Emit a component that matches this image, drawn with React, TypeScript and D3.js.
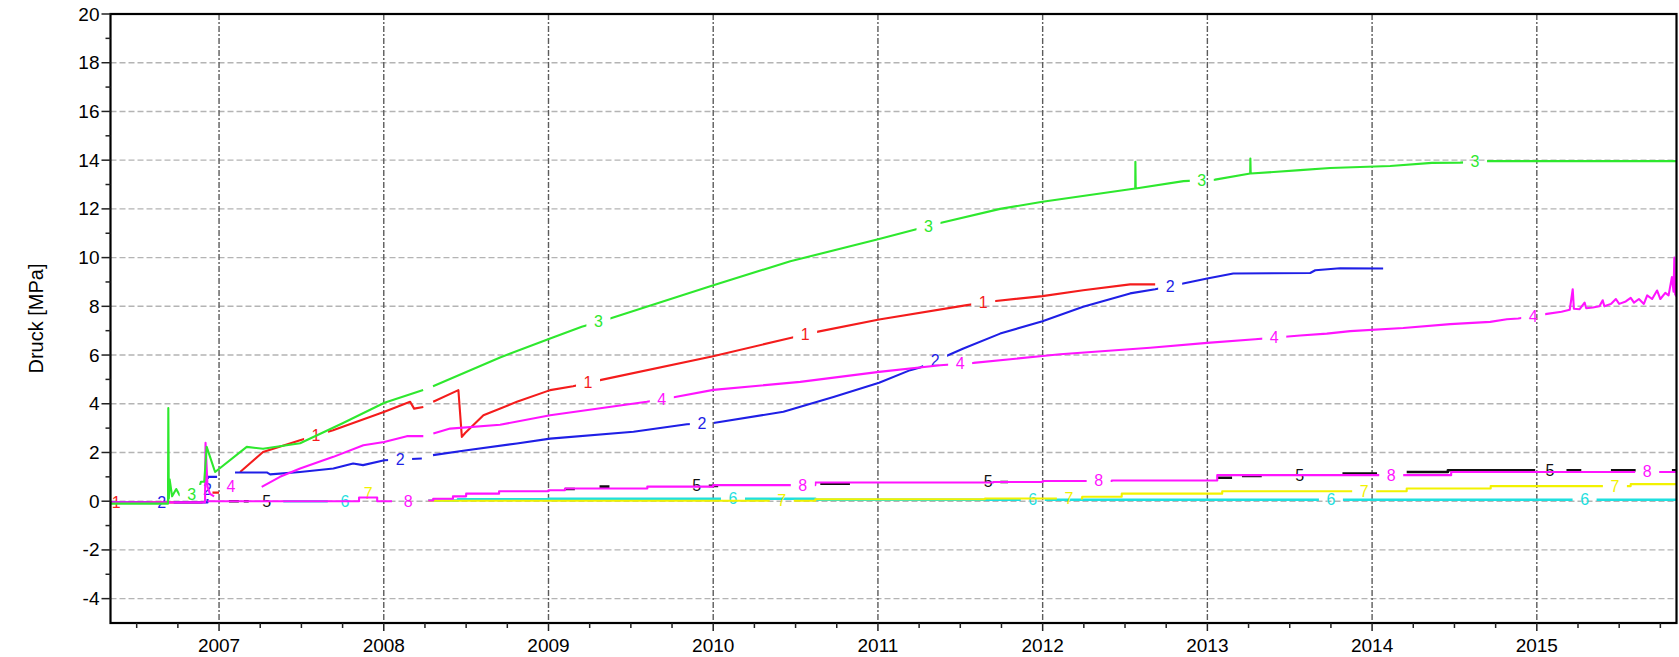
import React from 'react';
import * as d3 from 'd3';

// Pressure history of eight measuring points, 2006–2015
type Pt = [number, number];
type Lbl = [number, number?];
const G: Pt = [NaN, NaN]; // break in the record

const yearTicks = [2007, 2008, 2009, 2010, 2011, 2012, 2013, 2014, 2015];
const pressureTicks = [-4, -2, 0, 2, 4, 6, 8, 10, 12, 14, 16, 18, 20];
const yLabel = 'Druck [MPa]';

const series1: Pt[] = [
  [2006.341, -0.05], [2006.9, -0.05], G, [2006.96, 0.35], [2007.0, 0.35], G,
  [2007.128, 1.2], [2007.267, 2.02], [2007.492, 2.5], [2007.692, 2.91], [2008.004, 3.67],
  [2008.16, 4.08], [2008.184, 3.8], [2008.24, 3.87], G, [2008.3, 4.08], [2008.453, 4.56],
  [2008.474, 2.64], [2008.494, 2.8], [2008.605, 3.53], [2008.808, 4.08], [2009.01, 4.56],
  [2009.149, 4.72], [2009.313, 4.97], [2009.999, 5.95], [2010.468, 6.7], [2010.629, 6.95],
  [2011.007, 7.46], [2011.54, 8.05], [2011.701, 8.21], [2011.999, 8.42], [2012.246, 8.66],
  [2012.531, 8.9], [2012.683, 8.9],
];
const labels1: Lbl[] = [[2006.375], [2007.589], [2009.24], [2010.558], [2011.639]];

const series2: Pt[] = [
  [2006.341, -0.05], [2006.93, -0.05], [2006.932, 1.0], [2006.988, 1.0], G,
  [2007.097, 1.18], [2007.29, 1.18], [2007.31, 1.1], [2007.492, 1.2], [2007.694, 1.34],
  [2007.814, 1.55], [2007.874, 1.48], [2008.004, 1.68], [2008.231, 1.75], G,
  [2008.299, 1.89], [2008.504, 2.09], [2008.808, 2.37], [2009.01, 2.57], [2009.516, 2.85],
  [2009.84, 3.16], [2010.001, 3.21], [2010.426, 3.67], [2010.73, 4.28], [2011.007, 4.86],
  [2011.196, 5.38], [2011.256, 5.49], [2011.519, 6.27], [2011.742, 6.88], [2011.999, 7.39],
  [2012.246, 7.98], [2012.531, 8.53], [2012.683, 8.7], [2012.853, 8.94], [2012.999, 9.14],
  [2013.157, 9.35], [2013.624, 9.37], [2013.655, 9.48], [2013.806, 9.56], [2014.067, 9.55],
];
const labels2: Lbl[] = [[2006.652], [2006.93, 0.5], [2008.099], [2009.931], [2011.347], [2012.774]];

const series3: Pt[] = [
  [2006.341, -0.1], [2006.69, -0.1], [2006.692, 3.82], [2006.695, 0.1], [2006.7, 0.9],
  [2006.715, 0.2], [2006.74, 0.5], [2006.76, 0.25], [2006.8, 0.22], [2006.87, 0.3],
  [2006.89, 0.8], [2006.91, 0.8], [2006.925, 2.23], [2006.976, 1.2], [2007.168, 2.23],
  [2007.267, 2.15], [2007.492, 2.38], [2007.75, 3.2], [2008.004, 4.04], [2008.239, 4.56], G,
  [2008.299, 4.72], [2008.706, 5.9], [2009.01, 6.68], [2009.202, 7.16], [2009.374, 7.5],
  [2010.001, 8.87], [2010.468, 9.85], [2011.007, 10.76], [2011.378, 11.42], [2011.742, 12.0],
  [2011.999, 12.29], [2012.562, 12.84], [2012.563, 13.93], [2012.565, 12.84], [2012.855, 13.14],
  [2013.047, 13.2], [2013.26, 13.45], [2013.261, 14.07], [2013.263, 13.45], [2013.563, 13.59],
  [2013.745, 13.68], [2014.11, 13.76], [2014.363, 13.89], [2014.535, 13.9], [2014.699, 13.96],
  [2015.848, 13.96],
];
const labels3: Lbl[] = [[2006.834], [2009.303], [2011.307], [2012.966], [2014.625]];

const series4: Pt[] = [
  [2006.341, -0.05], [2006.915, -0.05], [2006.918, 2.4], [2006.93, 0.6], [2006.945, 0.3],
  [2006.97, 0.2], G,
  [2007.259, 0.59], [2007.37, 1.0], [2007.492, 1.34], [2007.694, 1.82], [2007.876, 2.3],
  [2008.002, 2.43], [2008.14, 2.67], [2008.24, 2.67], G, [2008.301, 2.78], [2008.403, 2.98],
  [2008.706, 3.14], [2009.01, 3.53], [2009.597, 4.08], [2009.769, 4.28], [2010.001, 4.57],
  [2010.528, 4.9], [2011.007, 5.31], [2011.378, 5.58], [2011.58, 5.68], [2011.999, 5.96],
  [2012.106, 6.03], [2012.653, 6.3], [2012.999, 6.5], [2013.29, 6.65], [2013.563, 6.8],
  [2013.725, 6.88], [2013.867, 6.98], [2014.189, 7.11], [2014.474, 7.27], [2014.717, 7.36],
  [2014.818, 7.47], [2014.887, 7.5], [2015.051, 7.68], [2015.15, 7.78], [2015.2, 7.86],
  [2015.218, 8.7], [2015.225, 7.9], [2015.26, 7.88], [2015.29, 8.15], [2015.3, 7.92],
  [2015.34, 7.95], [2015.38, 8.0], [2015.4, 8.25], [2015.41, 8.0], [2015.45, 8.1],
  [2015.48, 8.3], [2015.5, 8.1], [2015.54, 8.2], [2015.57, 8.35], [2015.59, 8.15],
  [2015.62, 8.3], [2015.65, 8.1], [2015.67, 8.45], [2015.7, 8.3], [2015.73, 8.65],
  [2015.75, 8.3], [2015.78, 8.55], [2015.8, 8.45], [2015.82, 9.2], [2015.83, 8.6],
  [2015.835, 10.0], [2015.84, 8.5], [2015.848, 8.4],
];
const labels4: Lbl[] = [[2007.073, 0.6], [2009.688], [2011.499], [2013.406], [2014.978]];

const series5: Pt[] = [
  [2007.06, 0.0], [2007.12, 0.0], G, [2007.15, 0.0], [2007.18, 0.0], G,
  [2009.1, 0.5], [2009.16, 0.5], G, [2009.31, 0.6], [2009.37, 0.6], G,
  [2009.96, 0.63], [2010.03, 0.63], G, [2010.65, 0.72], [2010.83, 0.72], G,
  [2011.74, 0.79], [2011.79, 0.79], G,
  [2013.06, 0.96], [2013.15, 0.96], G, [2013.21, 1.04], [2013.33, 1.04], G,
  [2013.82, 1.13], [2014.03, 1.13], G, [2014.21, 1.2], [2014.45, 1.2], [2014.46, 1.27],
  [2014.99, 1.27], G, [2015.18, 1.27], [2015.27, 1.27], G, [2015.45, 1.27], [2015.6, 1.27], G,
  [2015.82, 1.27], [2015.848, 1.27],
];
const labels5: Lbl[] = [[2007.29, 0.0], [2009.9, 0.63], [2011.67, 0.8], [2013.56, 1.07], [2015.08, 1.27]];

const series6: Pt[] = [
  [2007.39, 0.0], [2007.66, 0.0], G, [2008.27, 0.03], [2008.45, 0.08], [2009.0, 0.1],
  [2010.62, 0.06], [2015.848, 0.06],
];
const labels6: Lbl[] = [[2007.765, 0.0], [2010.12], [2011.94], [2013.75], [2015.29]];

const series7: Pt[] = [
  [2008.27, 0.02], [2010.62, 0.08], [2011.65, 0.11], [2012.24, 0.18], [2012.48, 0.31],
  [2013.09, 0.41], [2014.21, 0.52], [2014.72, 0.62], [2015.57, 0.7], [2015.848, 0.7],
];
const labels7: Lbl[] = [[2007.906, 0.3], [2010.416], [2012.159], [2013.952], [2015.474]];

const series8: Pt[] = [
  [2006.93, 0.0], [2007.83, 0.0], [2007.85, 0.15], [2007.95, 0.15], [2007.96, 0.0],
  [2008.05, 0.0], G, [2008.27, 0.03], [2008.3, 0.1], [2008.42, 0.2], [2008.5, 0.31],
  [2008.7, 0.41], [2009.0, 0.45], [2009.1, 0.52], [2009.6, 0.6], [2010.0, 0.66],
  [2010.62, 0.77], [2011.7, 0.79], [2012.0, 0.83], [2012.42, 0.85], [2013.06, 1.07],
  [2014.48, 1.2], [2015.848, 1.2],
];
const labels8: Lbl[] = [[2008.149, 0.0], [2010.544], [2012.34], [2014.116], [2015.67]];

interface Series { name: string; data: Pt[]; labels: Lbl[]; color: string; step: boolean; width: number }
const allSeries: Series[] = [
  { name: '1', data: series1, labels: labels1, color: '#f41c1c', step: false, width: 2.1 },
  { name: '2', data: series2, labels: labels2, color: '#1f1fe6', step: false, width: 2.1 },
  { name: '4', data: series4, labels: labels4, color: '#ff14ff', step: false, width: 2.1 },
  { name: '3', data: series3, labels: labels3, color: '#2ee82e', step: false, width: 2.1 },
  { name: '6', data: series6, labels: labels6, color: '#1ee0e0', step: true, width: 2.5 },
  { name: '7', data: series7, labels: labels7, color: '#f2f200', step: true, width: 2.1 },
  { name: '5', data: series5, labels: labels5, color: '#111111', step: true, width: 2.6 },
  { name: '8', data: series8, labels: labels8, color: '#ff14ff', step: true, width: 2.1 },
];

const W = 1679;
const H = 657;
const plot = { left: 110.5, right: 1676.5, top: 14, bottom: 623 };
const FONT = '"Liberation Sans", Arial, sans-serif';

function valueAt(data: Pt[], t: number, step: boolean): number {
  for (let i = 0; i < data.length - 1; i++) {
    const [x0, y0] = data[i];
    const [x1, y1] = data[i + 1];
    if (!isFinite(x0) || !isFinite(x1)) continue;
    if (t >= x0 && t <= x1) return step ? y0 : y0 + ((y1 - y0) * (t - x0)) / (x1 - x0);
  }
  return 0;
}

export default function App() {
  const x = d3.scaleLinear().domain([2006.341, 2015.848]).range([plot.left, plot.right]);
  const y = d3.scaleLinear().domain([-5, 20]).range([plot.bottom, plot.top]);

  const minorX: number[] = [];
  for (let q = 2006.5; q < 2015.85; q += 0.25) {
    if (Math.abs(q - Math.round(q)) > 0.01) minorX.push(q);
  }
  const minorY = d3.range(-5, 20, 2).filter((v) => v > -5);

  return (
    <svg width={W} height={H} style={{ position: 'absolute', left: 0, top: 0, background: '#fff' }}>
      <defs>
        <clipPath id="plotClip">
          <rect x={plot.left} y={plot.top} width={plot.right - plot.left} height={plot.bottom - plot.top} />
        </clipPath>
        {allSeries.map((s, i) => (
          <mask id={`gap${i}`} key={i} maskUnits="userSpaceOnUse" x={0} y={0} width={W} height={H}>
            <rect x={0} y={0} width={W} height={H} fill="#fff" />
            {s.labels.map((l, j) => {
              const v = l[1] !== undefined ? (l[1] as number) : valueAt(s.data, l[0], s.step);
              return <rect key={j} x={x(l[0]) - 12} y={y(v) - 10} width={24} height={20} fill="#000" />;
            })}
          </mask>
        ))}
      </defs>

      {/* grid */}
      <g>
        {pressureTicks.filter((v) => v < 20).map((v) => (
          <line key={v} x1={plot.left} x2={plot.right} y1={y(v)} y2={y(v)}
            stroke="#b4b4b4" strokeWidth={1.4} strokeDasharray="6,3" />
        ))}
        {yearTicks.map((t) => (
          <line key={t} x1={x(t)} x2={x(t)} y1={plot.top} y2={plot.bottom}
            stroke="#5c5c5c" strokeWidth={1.4} strokeDasharray="6,2,2,2" />
        ))}
      </g>

      {/* series */}
      <g clipPath="url(#plotClip)">
        {allSeries.map((s, i) => {
          const line = d3.line<Pt>()
            .defined((d) => isFinite(d[0]) && isFinite(d[1]))
            .x((d) => x(d[0]))
            .y((d) => y(d[1]))
            .curve(s.step ? d3.curveStepAfter : d3.curveLinear);
          return (
            <g key={i}>
              <path d={line(s.data) || ''} fill="none" stroke={s.color} strokeWidth={s.width}
                strokeLinejoin="round" mask={`url(#gap${i})`} />
              {s.labels.map((l, j) => {
                const v = l[1] !== undefined ? (l[1] as number) : valueAt(s.data, l[0], s.step);
                return (
                  <text key={j} x={x(l[0])} y={y(v)} fill={s.color} fontFamily={FONT} fontSize={16}
                    textAnchor="middle" dominantBaseline="central">{s.name}</text>
                );
              })}
            </g>
          );
        })}
      </g>

      {/* frame */}
      <rect x={plot.left} y={plot.top} width={plot.right - plot.left} height={plot.bottom - plot.top}
        fill="none" stroke="#000" strokeWidth={2.2} />

      {/* y axis */}
      <g fontFamily={FONT} fontSize={19} fill="#000">
        {pressureTicks.map((v) => (
          <g key={v}>
            <line x1={plot.left - 9} x2={plot.left} y1={y(v)} y2={y(v)} stroke="#222" strokeWidth={1.5} />
            <text x={plot.left - 11} y={y(v)} textAnchor="end" dominantBaseline="central">{v}</text>
          </g>
        ))}
        {minorY.map((v) => (
          <line key={v} x1={plot.left - 5} x2={plot.left} y1={y(v)} y2={y(v)} stroke="#222" strokeWidth={1.5} />
        ))}
        <text transform={`translate(36,${(plot.top + plot.bottom) / 2}) rotate(-90)`} textAnchor="middle"
          dominantBaseline="central" fontSize={20}>{yLabel}</text>
      </g>

      {/* x axis */}
      <g fontFamily={FONT} fontSize={19} fill="#000">
        {yearTicks.map((t) => (
          <g key={t}>
            <line x1={x(t)} x2={x(t)} y1={plot.bottom} y2={plot.bottom + 8} stroke="#222" strokeWidth={1.5} />
            <text x={x(t)} y={652} textAnchor="middle">{t}</text>
          </g>
        ))}
        {minorX.map((t) => (
          <line key={t} x1={x(t)} x2={x(t)} y1={plot.bottom} y2={plot.bottom + 5} stroke="#222" strokeWidth={1.5} />
        ))}
      </g>
    </svg>
  );
}
